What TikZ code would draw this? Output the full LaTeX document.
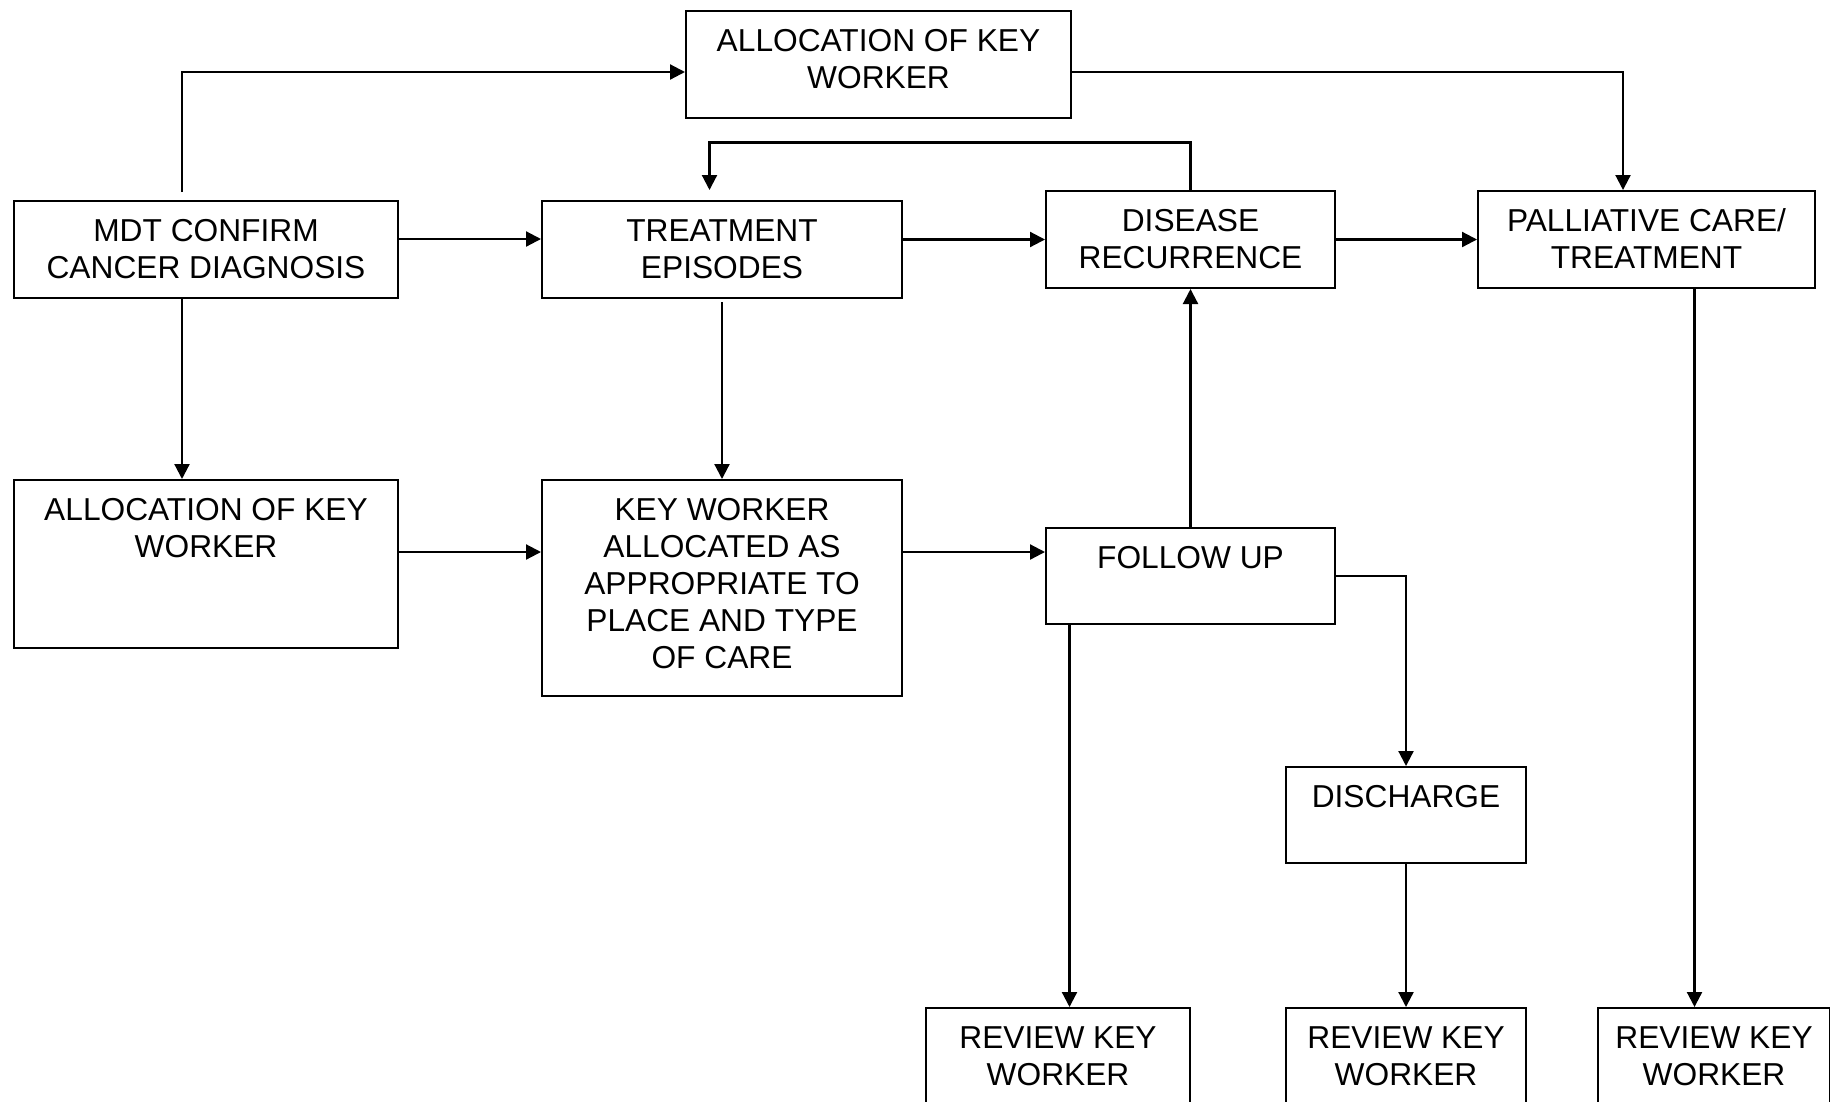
\documentclass[tikz,border=0pt]{standalone}
\usepackage{fontspec}
\setmainfont{Liberation Sans}
\usepackage{tikz}
\usetikzlibrary{arrows.meta,%
                positioning}

\newcommand{\stagefont}{\fontsize{31.7pt}{37pt}\selectfont}
\newcommand{\stagetext}[3]{\parbox[c][#2][t]{#1}{\centering\rule{0pt}{40pt}#3}}
\tikzset{stage/.style={draw, line width=2pt, inner sep=0pt, anchor=north west, font=\stagefont},
         flow/.style={line width=2.2pt, -{Triangle[length=15pt,width=15pt]}}}

\begin{document}
\begin{tikzpicture}[x=1pt,y=-1pt]
\useasboundingbox (0,0) rectangle (1830,1101);
\clip (0,0) rectangle (1830,1101);
\node[stage] (alloctop) at (685,10)   {\stagetext{385pt}{107pt}{ALLOCATION OF KEY\\WORKER}};
\node[stage] (mdt)      at (13,200)   {\stagetext{384pt}{97pt}{MDT CONFIRM\\CANCER DIAGNOSIS}};
\node[stage] (treat)    at (541,200)  {\stagetext{360pt}{97pt}{TREATMENT\\EPISODES}};
\node[stage] (recur)    at (1045,190) {\stagetext{289pt}{97pt}{DISEASE\\RECURRENCE}};
\node[stage] (pall)     at (1477,190) {\stagetext{337pt}{97pt}{PALLIATIVE CARE/\\TREATMENT}};
\node[stage] (alloc)    at (13,479)   {\stagetext{384pt}{168pt}{ALLOCATION OF KEY\\WORKER}};
\node[stage] (kwalloc)  at (541,479)  {\stagetext{360pt}{216pt}{KEY WORKER\\ALLOCATED AS\\APPROPRIATE TO\\PLACE AND TYPE\\OF CARE}};
\node[stage] (follow)   at (1045,527) {\stagetext{289pt}{96pt}{FOLLOW UP}};
\node[stage] (disch)    at (1285,766) {\stagetext{240pt}{96pt}{DISCHARGE}};
\node[stage] (reva)     at (925,1007) {\stagetext{264pt}{110pt}{REVIEW KEY\\WORKER}};
\node[stage] (revb)     at (1285,1007) {\stagetext{240pt}{110pt}{REVIEW KEY\\WORKER}};
\node[stage] (revc)     at (1597,1007) {\stagetext{232pt}{110pt}{REVIEW KEY\\WORKER}};

\draw[flow] ([xshift=-24pt,yshift=8pt]mdt.north) |- ([yshift=-7.5pt]alloctop.west);
\draw[flow] ([yshift=-7.5pt]alloctop.east) -| ([xshift=-23.5pt]pall.north);
\draw[flow] (recur.north) -- ++(0,-47.5) -| ([xshift=-12.5pt,yshift=10pt]treat.north);
\draw[flow] ([yshift=10.5pt]mdt.east) -- ([yshift=10.5pt]mdt.east -| treat.west);
\draw[flow] (treat.east |- recur.west) -- (recur.west);
\draw[flow] (recur.east) -- (pall.west);
\draw[flow] ([xshift=-24pt]mdt.south) -- ([xshift=-24pt]alloc.north);
\draw[flow] ([yshift=-3pt]treat.south) -- (kwalloc.north);
\draw[flow] ([yshift=12pt]alloc.east) -- ([yshift=12pt]alloc.east -| kwalloc.west);
\draw[flow] ([yshift=24pt]follow.west -| kwalloc.east) -- ([yshift=24pt]follow.west);
\draw[flow] (follow.north) -- (recur.south);
\draw[flow] (follow.east) -| (disch.north);
\draw[flow] ([xshift=24.5pt]follow.south west) -- ([xshift=24.5pt]follow.south west |- reva.north);
\draw[flow] (disch.south) -- (revb.north);
\draw[flow] ([xshift=48pt]pall.south) -- ([xshift=48pt]pall.south |- revc.north);
\end{tikzpicture}
\end{document}
